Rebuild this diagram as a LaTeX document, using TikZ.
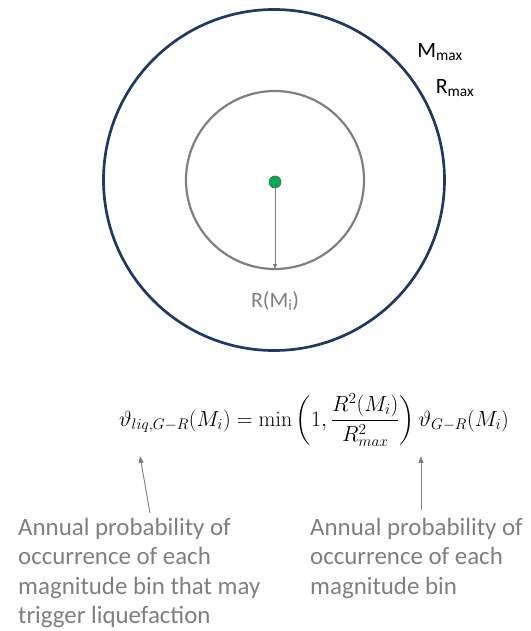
\documentclass[tikz,border=0pt]{standalone}
\usepackage{fix-cm}
\usepackage{amsmath}
\usepackage[no-math]{fontspec}
\setmainfont{Carlito}
\usetikzlibrary{positioning,arrows.meta}
\definecolor{ringB}{HTML}{203864}
\definecolor{ringG}{HTML}{7F7F7F}
\definecolor{dotG}{HTML}{00B050}
\definecolor{noteG}{HTML}{7F7F7F}

\begin{document}
\begin{tikzpicture}[x=1bp, y=-1bp,
  every node/.style={font=\fontsize{22}{26}\selectfont},
  ring/.style={circle, draw, inner sep=0pt, outer sep=0pt},
  note/.style={text=noteG, align=left, anchor=north west, inner sep=0pt,
               font=\fontsize{25}{29.5}\selectfont},
  up/.style={-{Triangle[length=7pt, width=5pt]}, line width=0.9pt, noteG}
]
  \useasboundingbox (0,0) rectangle (531,631);
  % rings
  \node[ring, draw=ringB, line width=2.7pt, minimum size=341bp] (far) at (274,180) {};
  \node[ring, draw=ringG, line width=2.2pt, minimum size=178bp] (near) at (275,180) {};
  \node[ring, fill=dotG, draw=black!65, line width=0.6pt, minimum size=12bp] (src) at (275,182) {};
  \draw[-{Triangle[length=5pt, width=4pt]}, line width=0.8pt, ringG] (src) -- (near.south);
  \node[text=ringG] (rmi) at (275,301) {R(M\textsubscript{i})};
  \node (mmax) at (440,52) {M\textsubscript{max}};
  \node (rmax) at (455,88) {R\textsubscript{max}};
  % formula
  \node[anchor=base, font=\fontsize{22}{27}\selectfont] (eq) at (314,426)
    {$\vartheta_{liq,G-R}(M_i) = \min\left(1,\dfrac{R^2(M_i)}{R^2_{max}}\right)\vartheta_{G-R}(M_i)$};
  % notes
  \node[note] (lnote) at (18,518) {Annual probability of\\occurrence of each\\magnitude bin that may\\trigger liquefaction};
  \node[note] (rnote) at (310,518) {Annual probability of\\occurrence of each\\magnitude bin};
  \coordinate (ltail) at (150,513);
  \coordinate (lhead) at (140,456);
  \coordinate (rtail) at (421,510);
  \coordinate (rhead) at (421,456);
  \draw[up] (ltail) -- (lhead);
  \draw[up] (rtail) -- (rhead);
\end{tikzpicture}
\end{document}
